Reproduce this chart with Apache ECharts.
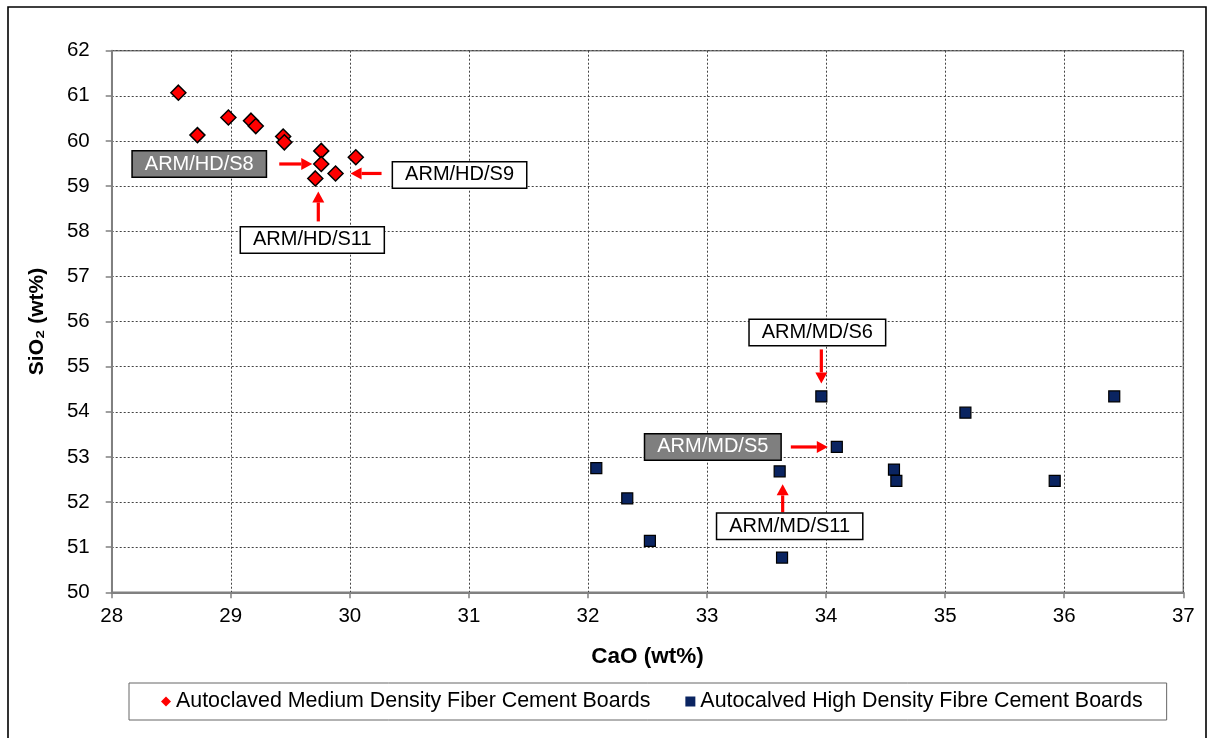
<!DOCTYPE html>
<html>
<head>
<meta charset="utf-8">
<script src="https://cdn.jsdelivr.net/npm/echarts@6/dist/echarts.min.js"></script>
<style>
  html, body { margin: 0; padding: 0; background: #fff; }
  #chart { width: 1211px; height: 738px; }
</style>
</head>
<body>
<div id="chart"></div>
<script>
// CaO / SiO2 composition of fibre cement boards (wt%)
const mdCaO  = [28.56, 28.72, 28.98, 29.17, 29.21, 29.44, 29.45, 29.76, 29.76, 30.05, 29.88, 29.71];
const mdSiO2 = [61.07, 60.13, 60.52, 60.45, 60.33, 60.10, 59.97, 59.78, 59.49, 59.64, 59.28, 59.17];

const hdCaO  = [32.07, 32.33, 32.52, 33.61, 33.63, 33.96, 34.09, 34.57, 34.59, 35.17, 35.92, 36.42];
const hdSiO2 = [52.75, 52.08, 51.14, 52.68, 50.77, 54.34, 53.22, 52.72, 52.47, 53.98, 52.47, 54.34];

const seriesNames = [
  'Autoclaved Medium Density Fiber Cement Boards',
  'Autocalved High Density Fibre Cement Boards'
];

// sample callouts: series, point index, label
const calloutSeries = [0, 0, 0, 1, 1, 1];
const calloutPoint  = [8, 10, 11, 5, 6, 3];
const calloutText   = ['ARM/HD/S8', 'ARM/HD/S9', 'ARM/HD/S11', 'ARM/MD/S6', 'ARM/MD/S5', 'ARM/MD/S11'];

// layout of each callout relative to its point (pixels): box centre, arrow tail, arrow head, filled box
const calloutLayout = [
  { box: [-122, 0],   tail: [-42, 0], head: [-9, 0],  dark: true },
  { box: [124, 1.5],  tail: [46, 0],  head: [15, 0],  dark: false },
  { box: [-3, 61.5],  tail: [3, 43],  head: [3, 13],  dark: false },
  { box: [-4, -64],   tail: [0, -47], head: [0, -13], dark: false },
  { box: [-124, 0],   tail: [-46, 0], head: [-9, 0],  dark: true },
  { box: [10, 55],    tail: [3, 41],  head: [3, 13],  dark: false }
];

const FONT = 'Arial, "Liberation Sans", sans-serif';
const zip = (xs, ys) => xs.map((x, i) => [x, ys[i]]);
const seriesData = [zip(mdCaO, mdSiO2), zip(hdCaO, hdSiO2)];

const chart = echarts.init(document.getElementById('chart'), null, { renderer: 'canvas' });

const option = {
  animation: false,
  backgroundColor: '#ffffff',
  grid: {
    left: 111.7, top: 50.7, width: 1071.6, height: 541.6,
    show: true, borderColor: '#808080', borderWidth: 1.5, backgroundColor: 'transparent'
  },
  xAxis: {
    type: 'value', min: 28, max: 37, interval: 1,
    name: 'CaO (wt%)', nameLocation: 'middle', nameGap: 53,
    nameTextStyle: { fontFamily: FONT, fontSize: 22.5, fontWeight: 'bold', color: '#000' },
    axisLine: { show: true, onZero: false, lineStyle: { color: '#808080', width: 2 } },
    axisTick: { show: true, inside: false, length: 6, lineStyle: { color: '#808080', width: 1.5 } },
    axisLabel: { fontFamily: FONT, fontSize: 20.5, color: '#000', margin: 14 },
    splitLine: { show: true, lineStyle: { color: '#444', width: 1, type: [2, 2] } }
  },
  yAxis: {
    type: 'value', min: 50, max: 62, interval: 1,
    name: 'SiO\u2082 (wt%)', nameLocation: 'middle', nameGap: 64, nameRotate: 90,
    nameTextStyle: { fontFamily: FONT, fontSize: 21, fontWeight: 'bold', color: '#000' },
    axisLine: { show: true, onZero: false, lineStyle: { color: '#808080', width: 2 } },
    axisTick: { show: true, inside: false, length: 6, lineStyle: { color: '#808080', width: 1.5 } },
    axisLabel: { fontFamily: FONT, fontSize: 20.5, color: '#000', margin: 22 },
    splitLine: { show: true, lineStyle: { color: '#444', width: 1, type: [2, 2] } }
  },
  legend: {
    left: 129, top: 683,
    orient: 'horizontal',
    padding: [8, 24, 8, 32],
    itemGap: 35,
    itemWidth: 10, itemHeight: 10,
    borderColor: '#666', borderWidth: 1,
    textStyle: { fontFamily: FONT, fontSize: 21.4, color: '#000', padding: [0, 0, 0, 0] },
    data: [
      { name: seriesNames[0], icon: 'diamond', itemStyle: { color: '#ff0000', borderWidth: 0 } },
      { name: seriesNames[1], icon: 'rect', itemStyle: { color: '#0a2461', borderWidth: 0 } }
    ]
  },
  series: [
    {
      name: seriesNames[0], type: 'scatter', data: seriesData[0],
      symbol: 'diamond', symbolSize: 15,
      itemStyle: { color: '#ff0000', borderColor: '#000', borderWidth: 1.5, opacity: 1 },
      z: 3
    },
    {
      name: seriesNames[1], type: 'scatter', data: seriesData[1],
      symbol: 'rect', symbolSize: 11,
      itemStyle: { color: '#0a2461', borderColor: '#000', borderWidth: 1.2, opacity: 1 },
      z: 3
    }
  ]
};

chart.setOption(option);

// outer chart frame plus callout boxes and arrows, anchored on the data points
function buildCallouts() {
  const elements = [{
    type: 'rect', silent: true, z: 100,
    shape: { x: 8, y: 7, width: 1198, height: 740 },
    style: { fill: 'none', stroke: '#000', lineWidth: 1.6 }
  }];
  calloutText.forEach((txt, i) => {
    const s = calloutSeries[i];
    const p = seriesData[s][calloutPoint[i]];
    const [px, py] = chart.convertToPixel({ seriesIndex: s }, p);
    const L = calloutLayout[i];
    const tx = px + L.tail[0], ty = py + L.tail[1];
    const hx = px + L.head[0], hy = py + L.head[1];
    const dx = hx - tx, dy = hy - ty, len = Math.hypot(dx, dy);
    const ux = dx / len, uy = dy / len;
    const headLen = 11, headHalf = 6;
    const bx = hx - ux * headLen, by = hy - uy * headLen;
    elements.push({
      type: 'line', silent: true, z: 50,
      shape: { x1: tx, y1: ty, x2: bx, y2: by },
      style: { stroke: '#ff0000', lineWidth: 3.2 }
    });
    elements.push({
      type: 'polygon', silent: true, z: 50,
      shape: { points: [[hx, hy], [bx - uy * headHalf, by + ux * headHalf], [bx + uy * headHalf, by - ux * headHalf]] },
      style: { fill: '#ff0000' }
    });
    elements.push({
      type: 'text', silent: true, z: 60,
      x: px + L.box[0], y: py + L.box[1],
      style: {
        text: txt,
        font: '20px ' + FONT,
        fill: L.dark ? '#ffffff' : '#000000',
        align: 'center', verticalAlign: 'middle',
        backgroundColor: L.dark ? '#7f7f7f' : '#ffffff',
        borderColor: '#000', borderWidth: 1.5,
        padding: [3, 12, 2, 12]
      }
    });
  });
  chart.setOption({ graphic: { elements } });
}
buildCallouts();
</script>
</body>
</html>
